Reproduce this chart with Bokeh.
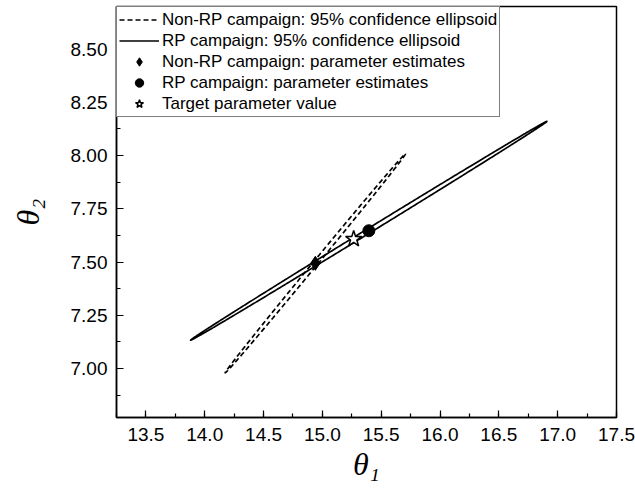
import numpy as np
from bokeh.plotting import figure
from bokeh.models import (SingleIntervalTicker, NumeralTickFormatter, Legend,
                          LegendItem, Range1d)
from bokeh.embed import file_html
from bokeh.resources import INLINE

# ---- data ----
series_labels = [
    "Non-RP campaign: 95% confidence ellipsoid",
    "RP campaign: 95% confidence ellipsoid",
    "Non-RP campaign: parameter estimates",
    "RP campaign: parameter estimates",
    "Target parameter value",
]
# parameter estimates (theta1, theta2)
nonrp_est_t1 = [14.94]
nonrp_est_t2 = [7.494]
rp_est_t1 = [15.395]
rp_est_t2 = [7.647]
target_t1 = [15.266]
target_t2 = [7.608]
# confidence ellipses: centre = estimate, end of major semi-axis, minor conjugate semi-axis
nonrp_major_end = (15.706, 8.008)
nonrp_minor_vec = (0.0150, -0.0068)
rp_major_end = (16.91, 8.161)
rp_minor_vec = (0.0102, -0.0092)

x_range = (13.25, 17.5)
y_range = (6.77, 8.70)


def ellipse_outline(c1, c2, end, minor, n=720):
    t = np.linspace(0, 2 * np.pi, n)
    a1, a2 = end[0] - c1, end[1] - c2
    x = c1 + np.cos(t) * a1 + np.sin(t) * minor[0]
    y = c2 + np.cos(t) * a2 + np.sin(t) * minor[1]
    return x, y


p = figure(width=635, height=492, output_backend="svg", toolbar_location=None,
           x_range=Range1d(*x_range), y_range=Range1d(*y_range),
           min_border_left=116, min_border_right=19, min_border_top=6,
           min_border_bottom=75)
p.background_fill_color = "white"
p.border_fill_color = "white"
p.outline_line_color = "black"
p.outline_line_width = 1.5
p.xgrid.visible = False
p.ygrid.visible = False

ex, ey = ellipse_outline(nonrp_est_t1[0], nonrp_est_t2[0], nonrp_major_end, nonrp_minor_vec)
r_nonrp_ell = p.line(ex, ey, line_color="black", line_width=1.7, line_dash="5 3")
ex, ey = ellipse_outline(rp_est_t1[0], rp_est_t2[0], rp_major_end, rp_minor_vec)
r_rp_ell = p.line(ex, ey, line_color="black", line_width=1.7)

r_nonrp_est = p.scatter(nonrp_est_t1, nonrp_est_t2, marker="diamond", size=14,
                        fill_color="black", line_color="black")
r_rp_est = p.scatter(rp_est_t1, rp_est_t2, marker="circle", size=12,
                     fill_color="black", line_color="black")
r_target = p.scatter(target_t1, target_t2, marker="star", size=17,
                     fill_color="white", line_color="black", line_width=1.5)

for ax in (p.xaxis[0], p.yaxis[0]):
    ax.axis_line_width = 1.5
    ax.major_tick_in = 7
    ax.major_tick_out = 0
    ax.minor_tick_in = 4
    ax.minor_tick_out = 0
    ax.major_tick_line_width = 1.2
    ax.minor_tick_line_width = 1.2
    ax.major_label_text_font = "Liberation Sans"
    ax.major_label_text_font_size = "19px"
    ax.major_label_text_color = "black"
    ax.axis_label_text_font = "Liberation Serif"
    ax.axis_label_text_font_style = "italic"
    ax.axis_label_text_font_size = "32px"
    ax.axis_label_text_color = "black"

p.xaxis.ticker = SingleIntervalTicker(interval=0.5, num_minor_ticks=2)
p.yaxis.ticker = SingleIntervalTicker(interval=0.25, num_minor_ticks=2)
p.xaxis.formatter = NumeralTickFormatter(format="0.0")
p.yaxis.formatter = NumeralTickFormatter(format="0.00")
p.xaxis.axis_label = "θ₁"
p.yaxis.axis_label = "θ₂"
p.xaxis.major_label_standoff = 10
p.yaxis.major_label_standoff = 9
p.xaxis.axis_label_standoff = 2
p.yaxis.axis_label_standoff = 22

legend = Legend(items=[
    LegendItem(label=series_labels[0], renderers=[r_nonrp_ell]),
    LegendItem(label=series_labels[1], renderers=[r_rp_ell]),
    LegendItem(label=series_labels[2], renderers=[r_nonrp_est]),
    LegendItem(label=series_labels[3], renderers=[r_rp_est]),
    LegendItem(label=series_labels[4], renderers=[r_target]),
], location="top_left")
legend.margin = 0
legend.padding = 2
legend.spacing = 0
legend.label_height = 21
legend.glyph_height = 21
legend.glyph_width = 40
legend.label_standoff = 3
legend.label_text_font = "Liberation Sans"
legend.label_text_font_size = "17px"
legend.label_text_color = "black"
legend.border_line_color = "black"
legend.border_line_width = 1
legend.background_fill_color = "white"
legend.background_fill_alpha = 1.0
p.add_layout(legend)

open("out.html", "w").write(file_html(p, INLINE))
